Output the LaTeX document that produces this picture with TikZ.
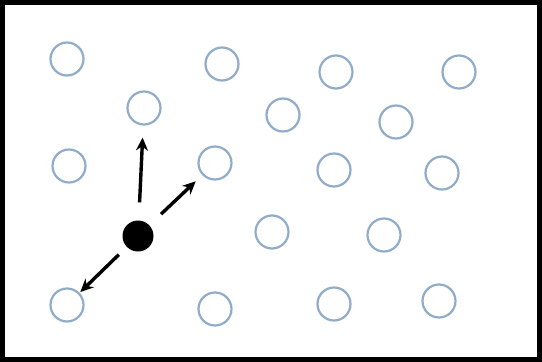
\documentclass[tikz,border=0pt]{standalone}
\usepackage{tikz}
\usetikzlibrary{arrows.meta}
\definecolor{sitecol}{RGB}{145,172,200}

\begin{document}
\begin{tikzpicture}[x=1pt,y=-1pt,
    site/.style={circle, draw=sitecol, line width=2.2pt, minimum size=33pt, inner sep=0pt},
    walker/.style={circle, fill=black, minimum size=31pt, inner sep=0pt},
    hop/.style={line width=3.4pt, -{Stealth[length=13pt,width=12pt]}}]
    \useasboundingbox (0,0) rectangle (542,362);
    \draw[line width=5pt] (2.5,2.5) rectangle (539.5,359.5);
    % empty sites of the lattice
    \foreach \n/\x/\y in {1/67/59, 2/222/64, 3/336/72, 4/459/72, 5/144/108,
        6/283/115, 7/396/122, 8/69/166, 9/215/163, 10/334/170, 11/442/173,
        12/272/232, 13/384/235, 14/67/305, 15/215/309, 16/334/304, 17/439/301}
      \node[site] (c\n) at (\x,\y) {};
    % occupied site and its possible hops
    \node[walker] (p) at (138,236) {};
    \draw[hop, shorten <=18pt, shorten >=12pt] (p) -- (c5);
    \draw[hop, shorten <=16pt, shorten >=9pt] (p) -- (c9);
    \draw[hop, shorten <=11pt, shorten >=1pt] (p) -- (c14);
\end{tikzpicture}
\end{document}
